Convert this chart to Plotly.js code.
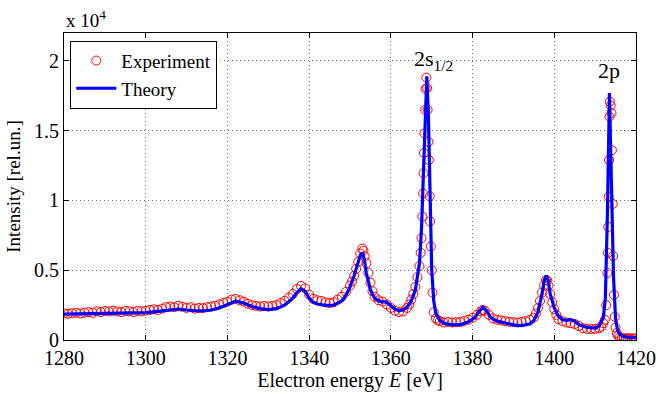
<!DOCTYPE html>
<html>
<head>
<meta charset="utf-8">
<script src="https://cdn.plot.ly/plotly-3.0.1.min.js"></script>
<style>html,body{margin:0;padding:0;background:#fff;}#chart{width:658px;height:394px;}</style>
</head>
<body>
<div id="chart"></div>
<script>
// Experimental data (energy in eV, intensity in counts)
const expE = [
1280,1281,1282,1283,1284,1285,1286,1287,1288,1289,1290,1291,1292,1293,1294,1295,1296,1297,1298,1299,
1300,1301,1302,1303,1304,1305,1306,1307,1308,1309,1310,1311,1312,1313,1314,1315,1316,1317,1318,1319,
1320,1321,1322,1323,1324,1325,1326,1327,1328,1329,1330,1331,1332,1333,1334,1335,1336,1337,1338,1339,
1340,1341,1342,1343,1344,1345,1346,1347,1348,1349,1350,1350.5,1351,1351.5,1352,1352.5,1353,1353.3,1353.6,1354,
1354.5,1355,1355.5,1356,1357,1358,1359,1360,1361,1362,1363,1364,1364.5,1365,1365.5,1366,1366.5,1367,1367.3,1367.5,
1367.7,1367.9,1368.0,1368.1,1368.2,1368.4,1368.5,1368.7,1368.9,1369.0,1369.2,1369.3,1369.5,1369.6,1369.8,1370.0,1370.2,1370.5,1371,1371.5,
1372,1373,1374,1375,1376,1377,1378,1379,1380,1381,1382,1382.5,1383,1384,1385,1386,1387,1388,1389,1390,
1391,1392,1393,1394,1395,1395.5,1396,1396.5,1397,1397.5,1398,1398.3,1398.6,1399,1399.5,1400,1400.5,1401,1402,1403,
1404,1405,1406,1407,1408,1409,1410,1411,1411.5,1412,1412.4,1412.7,1413.0,1413.1,1413.2,1413.3,1413.4,1413.5,1413.6,1413.8,
1414.0,1414.1,1414.3,1414.4,1414.6,1414.8,1415.0,1415.3,1415.6,1416,1416.5,1417,1417.5,1418,1418.5,1419,1419.5,1420
];
const expI = [
1900,1880,1920,1950,1900,1960,2000,1950,2050,2000,2080,2050,2100,2050,2000,2080,2050,2000,2100,2050,
2100,2150,2200,2150,2250,2350,2400,2350,2450,2380,2300,2350,2250,2300,2280,2350,2400,2450,2550,2650,
2750,2900,2950,2850,2750,2600,2500,2450,2400,2450,2400,2450,2500,2650,2800,3050,3300,3650,3880,3700,
3250,2950,2850,2800,2700,2650,2700,2900,3100,3450,3900,4200,4600,5100,5600,6200,6550,6400,6000,5500,
4800,4100,3500,3100,2850,2750,2550,2300,2100,2000,2050,2300,2550,2900,3300,3800,4500,5300,6250,7300,
8850,10500,11950,13400,14800,16500,18000,18800,18050,16500,14200,12900,10300,8500,6700,5000,3400,2000,1550,1400,
1350,1250,1300,1250,1280,1300,1380,1450,1600,1800,2050,2150,2100,1800,1550,1450,1400,1350,1300,1280,
1250,1300,1350,1450,1600,1900,2300,2800,3400,3900,4300,4250,3900,3300,2700,2200,1800,1500,1350,1250,
1200,1150,1000,850,800,780,800,850,950,1200,1450,2500,4800,6240,8100,10270,12900,16000,17080,16800,
16270,13600,9750,6020,3230,1670,900,500,300,200,150,120,100,130,100,120,100,110
];

// Theory curve
const thE = [
1280,1285,1290,1295,1300,1303,1306,1308,1310,1313,1316,1318,1320,1322,1324,1326,1328,1330,1332,1334,
1336,1337,1338,1339,1340,1341,1342,1344,1346,1348,1349,1350,1351,1352,1352.5,1353,1353.5,1354,1355,1356,
1357,1358,1359,1360,1361,1362,1363,1364,1365,1366,1367,1367.5,1368,1368.5,1368.8,1369.2,1369.6,1370,1370.5,1371,
1372,1373,1375,1377,1379,1380.5,1381.5,1382.5,1383.5,1384.5,1386,1388,1390,1392,1394,1395,1396,1397,1397.5,1398,
1398.5,1399,1400,1401,1402,1403,1404,1405,1406,1408,1410,1411,1412,1412.5,1413,1413.5,1414,1414.5,1415,1415.5,
1416,1417,1418,1420
];
const thI = [
1850,1870,1900,1930,1960,2050,2180,2220,2150,2080,2150,2300,2550,2780,2650,2400,2250,2180,2250,2500,
3000,3400,3680,3500,3000,2700,2580,2480,2500,2800,3200,3800,4600,5600,6050,6250,5800,4800,3600,3000,
2800,2750,2700,2450,2200,2100,2150,2350,2800,3600,5500,8000,12500,17500,18900,16000,9000,5000,2800,1900,
1400,1200,1080,1100,1300,1600,2000,2350,2050,1600,1350,1200,1080,1030,1150,1400,2000,3300,4200,4600,
4300,3300,2300,1700,1450,1400,1450,1350,1100,900,850,1000,1600,3000,9000,17700,12000,4500,1500,700,
400,250,200,180
];

const yTickVals = [0, 5000, 10000, 15000, 20000];
const yTickText = ['0', '0.5', '1', '1.5', '2'];
const xTickVals = [1280, 1300, 1320, 1340, 1360, 1380, 1400, 1420];

const serif = 'Liberation Serif, Times New Roman, serif';

const traces = [
  {x: expE, y: expI, type: 'scatter', mode: 'markers', name: 'Experiment',
   marker: {symbol: 'circle-open', size: 9, color: '#ff0000', line: {width: 1, color: '#ff0000'}}},
  {x: thE, y: thI, type: 'scatter', mode: 'lines', name: 'Theory',
   line: {color: '#0000ff', width: 3.2}}
];

const layout = {
  width: 658, height: 394,
  margin: {l: 64, r: 22, t: 33, b: 54},
  paper_bgcolor: '#fff', plot_bgcolor: '#fff',
  font: {family: serif, size: 20, color: '#000'},
  showlegend: true,
  legend: {x: 0.011, y: 0.975, xanchor: 'left', yanchor: 'top',
    bordercolor: '#000', borderwidth: 1, bgcolor: '#fff',
    font: {family: serif, size: 19, color: '#000'},
    tracegroupgap: 0, itemwidth: 40},
  xaxis: {
    range: [1280, 1420], tickvals: xTickVals, ticks: 'inside', ticklen: 5,
    tickcolor: '#000', showline: true, linecolor: '#000', linewidth: 1, mirror: 'ticks',
    showgrid: true, gridcolor: '#777', griddash: '1px,3px', gridwidth: 1, zeroline: false,
    tickfont: {family: serif, size: 20},
    title: {text: 'Electron energy <i>E</i> [eV]', font: {family: serif, size: 20}, standoff: 2}
  },
  yaxis: {
    range: [0, 22000], tickvals: yTickVals, ticktext: yTickText, ticks: 'inside', ticklen: 5,
    tickcolor: '#000', showline: true, linecolor: '#000', linewidth: 1, mirror: 'ticks',
    showgrid: true, gridcolor: '#777', griddash: '1px,3px', gridwidth: 1, zeroline: false,
    tickfont: {family: serif, size: 20},
    title: {text: 'Intensity [rel.un.]', font: {family: serif, size: 19}, standoff: 8}
  },
  annotations: [
    {xref: 'paper', yref: 'paper', x: 0, y: 1, xanchor: 'left', yanchor: 'bottom', yshift: 0,
     text: 'x 10<sup>4</sup>', showarrow: false, font: {family: serif, size: 19}},
    {xref: 'x', yref: 'y', x: 1368.9, y: 18900, xanchor: 'center', yanchor: 'bottom', xshift: 6,
     text: '2s<sub>1/2</sub>', showarrow: false, font: {family: serif, size: 22}},
    {xref: 'x', yref: 'y', x: 1413.5, y: 18300, xanchor: 'center', yanchor: 'bottom',
     text: '2p', showarrow: false, font: {family: serif, size: 22}}
  ]
};

Plotly.newPlot('chart', traces, layout, {displayModeBar: false, staticPlot: true});
</script>
</body>
</html>
